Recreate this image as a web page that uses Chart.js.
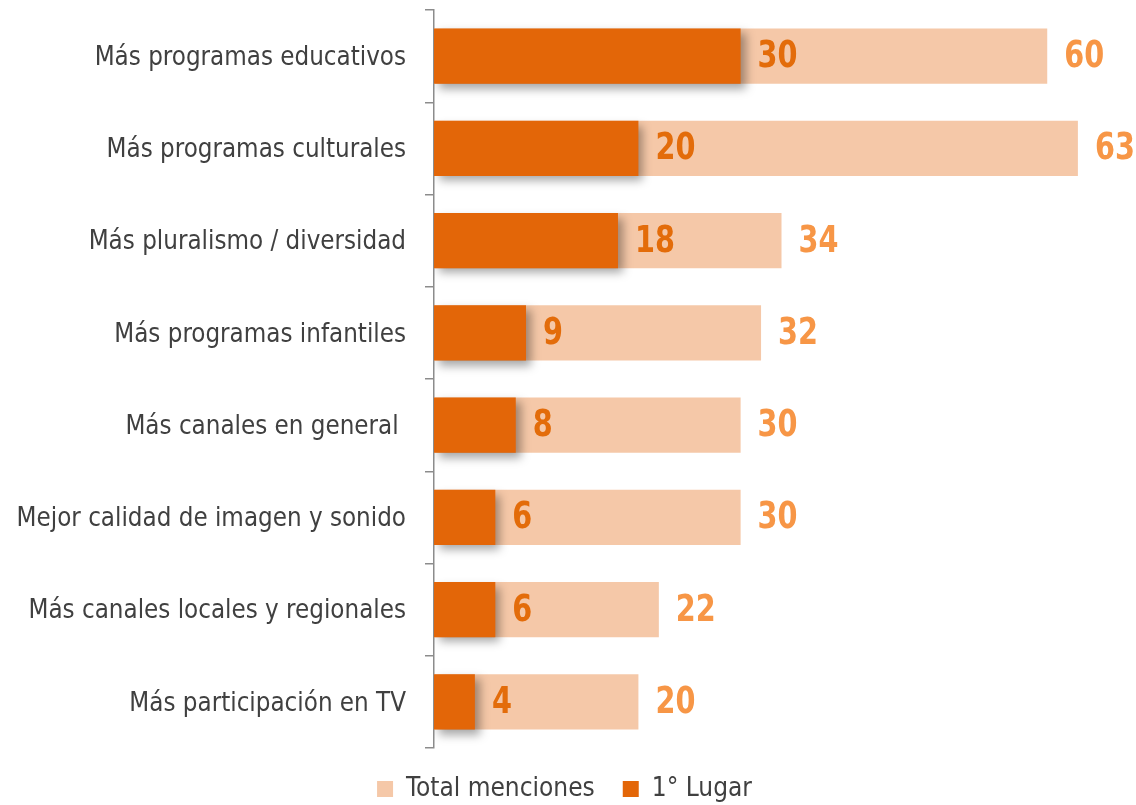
<!DOCTYPE html>
<html>
<head>
<meta charset="utf-8">
<script src="https://cdn.jsdelivr.net/npm/chart.js@4.4.1/dist/chart.umd.min.js"></script>
<style>
  body { margin: 0; background: #fff; }
  #wrap { width: 1136px; height: 805px; }
</style>
</head>
<body>
<div id="wrap"><canvas id="barChart"></canvas></div>
<script>
// datos
const categorias = [
  "Más programas educativos",
  "Más programas culturales",
  "Más pluralismo / diversidad",
  "Más programas infantiles",
  "Más canales en general ",
  "Mejor calidad de imagen y sonido",
  "Más canales locales y regionales",
  "Más participación en TV",
];
const totalMenciones = [60, 63, 34, 32, 30, 30, 22, 20];
const primerLugar = [30, 20, 18, 9, 8, 6, 6, 4];

const fuente = "'Liberation Sans Narrow', 'DejaVu Sans Condensed', 'Arial Narrow', sans-serif";

// sombra para las barras oscuras
const sombraPlugin = {
  id: "sombra",
  beforeDatasetDraw(chart, args) {
    if (args.index !== 1) return;
    const ctx = chart.ctx;
    ctx.save();
    ctx.shadowColor = "rgba(0,0,0,0.35)";
    ctx.shadowBlur = 9;
    ctx.shadowOffsetX = 5;
    ctx.shadowOffsetY = 5;
  },
  afterDatasetDraw(chart, args) {
    if (args.index !== 1) return;
    chart.ctx.restore();
  },
};

// etiquetas de valores (un poco estrechadas, como Arial Narrow)
const etiquetasPlugin = {
  id: "etiquetas",
  afterDatasetsDraw(chart) {
    const ctx = chart.ctx;
    chart.data.datasets.forEach((ds, i) => {
      const meta = chart.getDatasetMeta(i);
      meta.data.forEach((bar, j) => {
        ctx.save();
        ctx.font = "bold 38px " + fuente;
        ctx.textBaseline = "middle";
        ctx.textAlign = "left";
        ctx.fillStyle = i === 0 ? "#F79646" : "#E36C0A";
        ctx.translate(bar.x + 17, bar.y + 1);
        ctx.scale(0.84, 1);
        ctx.fillText(ds.data[j], 0, 0);
        ctx.restore();
      });
    });
  },
};

const config = {
  type: "bar",
  data: {
    labels: categorias,
    datasets: [
      {
        label: "Total menciones",
        data: totalMenciones,
        backgroundColor: "#F5C8A8",
        grouped: false,
        order: 1,
        barPercentage: 0.6,
        categoryPercentage: 1,
      },
      {
        label: "1° Lugar",
        data: primerLugar,
        backgroundColor: "#E36608",
        grouped: false,
        order: 0,
        barPercentage: 0.6,
        categoryPercentage: 1,
      },
    ],
  },
  options: {
    indexAxis: "y",
    responsive: true,
    maintainAspectRatio: false,
    animation: false,
    layout: {
      padding: { top: 10, right: 7, left: 0, bottom: -7 },
    },
    scales: {
      x: {
        display: false,
        min: 0,
        max: 68,
      },
      y: {
        afterFit(scale) {
          scale.width = 434;
          scale.paddingTop = 0;
          scale.paddingBottom = 0;
        },
        grid: {
          offset: true,
          drawOnChartArea: false,
          drawTicks: true,
          tickLength: 9,
          color: "#8C8C8C",
          lineWidth: 1.5,
        },
        border: { display: true, color: "#8C8C8C", width: 1.5 },
        ticks: {
          color: "#404040",
          padding: 19,
          labelOffset: 2,
          font: { family: fuente, size: 25.7, lineHeight: 0.1 },
        },
      },
    },
    plugins: {
      tooltip: { enabled: false },
      legend: {
        position: "bottom",
        labels: {
          sort: (a, b) => a.datasetIndex - b.datasetIndex,
          boxWidth: 16,
          boxHeight: 16,
          padding: 28,
          color: "#404040",
          font: { family: fuente, size: 26 },
        },
      },
    },
  },
  plugins: [sombraPlugin, etiquetasPlugin],
};

const barChart = new Chart(document.getElementById("barChart"), config);
</script>
</body>
</html>
